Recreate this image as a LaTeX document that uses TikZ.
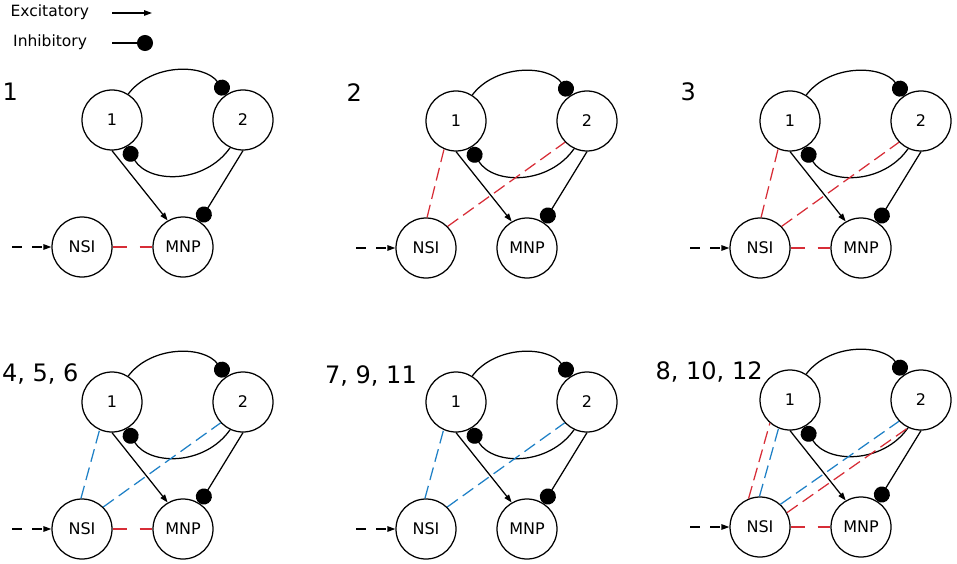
\documentclass[tikz,border=0pt]{standalone}
\usepackage{fontspec}
\setmainfont{DejaVu Sans}
\usetikzlibrary{arrows.meta}
\definecolor{cred}{RGB}{215,45,55}
\definecolor{cblue}{RGB}{30,128,198}
\tikzset{
  neuron/.style={circle,draw,line width=1.25pt,minimum size=60pt,inner sep=0pt,font=\fontsize{16}{19}\selectfont},
  lbl/.style={anchor=base west,inner sep=0pt,font=\fontsize{24}{28}\selectfont},
  leg/.style={anchor=base west,inner sep=0pt,font=\fontsize{15.5}{19}\selectfont},
  conn/.style={line width=1.25pt},
  exc/.style={conn,-{Triangle[length=8pt,width=5.5pt]}},
  inh/.style={conn,-{Circle[length=16pt,width=16pt]}},
  inp/.style={exc,dash pattern=on 10pt off 10pt},
  rdash/.style={line width=1.25pt,draw=cred,dash pattern=on 13pt off 6pt},
  bdash/.style={line width=1.25pt,draw=cblue,dash pattern=on 13pt off 6pt},
  smdash/.style={line width=1.25pt,draw=cred,dash pattern=on 14pt off 13pt}
}
\newcommand\mypanel[3]{%
  \begin{scope}[shift={(#1,#2)}]
    \node[neuron] (#3a) at (112,120) {1};
    \node[neuron] (#3b) at (243,120) {2};
    \node[neuron] (#3s) at (82,247) {NSI};
    \node[neuron] (#3m) at (183,247) {MNP};
    \coordinate (#3in) at (12,247);
  \end{scope}
  \draw[inh] (#3a.58) to[out=53,in=127] (#3b.122);
  \draw[inh] (#3b.245) to[out=-125,in=-58,looseness=1.08] (#3a.-62);
  \draw[exc] (#3a.-90) -- (#3m.120);
  \draw[inh] (#3b.-90) -- (#3m.57);
  \draw[inp] (#3in) -- (#3s.west);
}
\begin{document}
\begin{tikzpicture}[x=1pt,y=-1pt]
\useasboundingbox (0,0) rectangle (957,564);
% legend
\node[leg] (lex) at (10.5,17) {Excitatory};
\node[leg] (lin) at (13,47) {Inhibitory};
\coordinate (ea) at (112,13);
\coordinate (eb) at (152,13);
\coordinate (ia) at (112,43);
\coordinate (ib) at (153,43);
\draw[exc] (ea) -- (eb);
\draw[inh] (ia) -- (ib);
% panel labels
\node[lbl] (t1) at (2.5,101) {1};
\node[lbl] (t2) at (346.5,102) {2};
\node[lbl] (t3) at (680.5,101) {3};
\node[lbl] (t4) at (2,381) {4, 5, 6};
\node[lbl] (t5) at (325,383) {7, 9, 11};
\node[lbl] (t6) at (655.5,379) {8, 10, 12};
% panels
\mypanel{0}{0}{P}
\mypanel{344}{1}{Q}
\mypanel{678}{1}{R}
\mypanel{0}{282}{S}
\mypanel{344}{282}{T}
\mypanel{678}{280}{U}
% panel 1
\draw[smdash] (Ps.east) -- (Pm.west);
% panel 2
\draw[rdash] (Qs.88) -- (Qa.247);
\draw[rdash] (Qs.45) -- (Qb.224);
% panel 3
\draw[rdash] (Rs.88) -- (Ra.247);
\draw[rdash] (Rs.45) -- (Rb.224);
\draw[smdash] (Rs.east) -- (Rm.west);
% panel 4
\draw[bdash] (Ss.92) -- (Sa.246);
\draw[bdash] (Ss.46) -- (Sb.223);
\draw[smdash] (Ss.east) -- (Sm.west);
% panel 5
\draw[bdash] (Ts.92) -- (Ta.246);
\draw[bdash] (Ts.46) -- (Tb.223);
% panel 6
\draw[rdash] (Us.112) -- (Ua.229);
\draw[rdash] (Us.28) -- (Ub.245);
\draw[bdash] (Us.91) -- (Ua.248);
\draw[bdash] (Us.48) -- (Ub.224);
\draw[smdash] (Us.east) -- (Um.west);
\end{tikzpicture}
\end{document}
